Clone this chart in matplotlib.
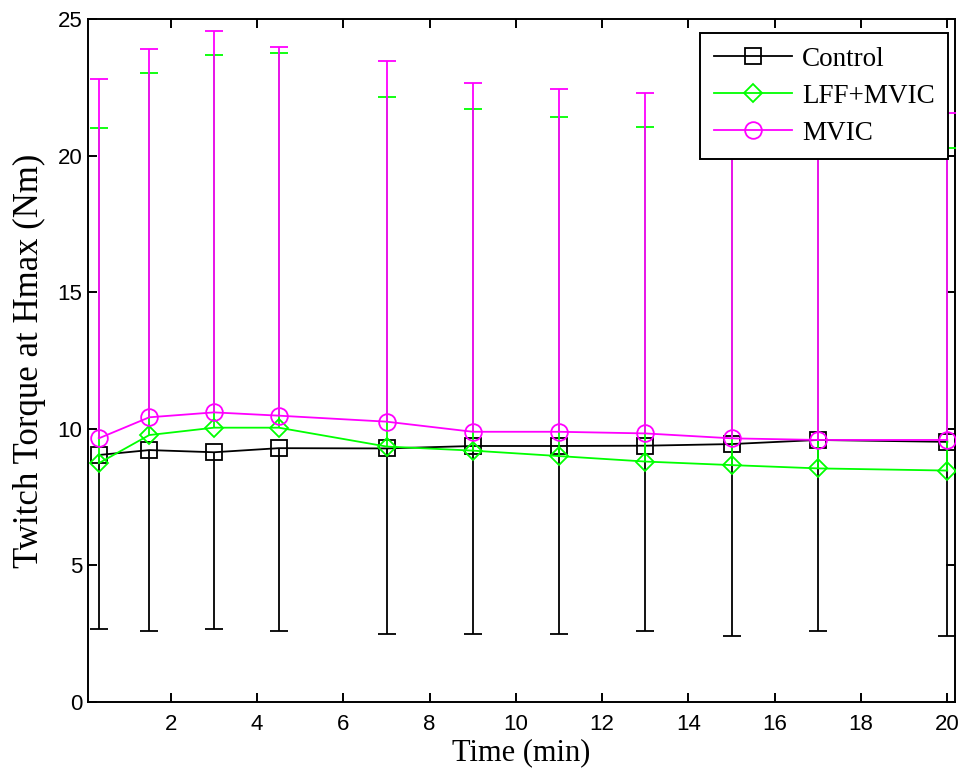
import numpy as np
import matplotlib
matplotlib.use('Agg')
import matplotlib.pyplot as plt

# time points (min)
time_min = [0.33, 1.5, 3, 4.5, 7, 9, 11, 13, 15, 17, 20]

# mean twitch torque (Nm) and error bar ends
control_mean = [9.04, 9.22, 9.14, 9.29, 9.28, 9.37, 9.37, 9.38, 9.44, 9.59, 9.52]
control_low = [2.66, 2.59, 2.66, 2.59, 2.50, 2.50, 2.50, 2.59, 2.43, 2.59, 2.43]

lff_mean = [8.74, 9.77, 10.04, 10.04, 9.35, 9.20, 9.00, 8.80, 8.67, 8.55, 8.47]
lff_high = [21.00, 23.03, 23.68, 23.77, 22.14, 21.71, 21.41, 21.06, 20.80, 20.50, 20.27]

mvic_mean = [9.65, 10.42, 10.60, 10.48, 10.26, 9.89, 9.89, 9.83, 9.65, 9.59, 9.59]
mvic_high = [22.80, 23.90, 24.56, 23.99, 23.46, 22.67, 22.44, 22.30, 22.00, 21.80, 21.57]

labels = ['Control', 'LFF+MVIC', 'MVIC']

fig = plt.figure(figsize=(9.64, 7.81), dpi=100)
ax = fig.add_axes([0.0913, 0.1012, 0.8994, 0.8745])

x = np.array(time_min)
lw = 1.3
cap = 6.5

# Control: only the lower half of the error bar
m = np.array(control_mean)
eb1 = ax.errorbar(x, m, yerr=[m - np.array(control_low), np.zeros_like(m)],
                  color='black', marker='s', ms=12, mfc='none', mew=lw, lw=lw,
                  elinewidth=lw, capsize=cap, capthick=lw, zorder=2)
eb1[1][1].set_visible(False)

# LFF+MVIC: only the upper half
m = np.array(lff_mean)
eb2 = ax.errorbar(x, m, yerr=[np.zeros_like(m), np.array(lff_high) - m],
                  color='#00ff00', marker='D', ms=9, mfc='none', mew=lw, lw=lw,
                  elinewidth=lw, capsize=cap, capthick=lw, zorder=3)
eb2[1][0].set_visible(False)

# MVIC: only the upper half
m = np.array(mvic_mean)
eb3 = ax.errorbar(x, m, yerr=[np.zeros_like(m), np.array(mvic_high) - m],
                  color='#ff00ff', marker='o', ms=12, mfc='none', mew=lw, lw=lw,
                  elinewidth=lw, capsize=cap, capthick=lw, zorder=4)
eb3[1][0].set_visible(False)

ax.set_xlim(0.08, 20.18)
ax.set_ylim(0, 25)
ax.set_xticks(np.arange(2, 21, 2))
ax.set_yticks(np.arange(0, 26, 5))

for s in ax.spines.values():
    s.set_linewidth(1.4)
ax.tick_params(direction='in', length=6.5, width=1.4, top=True, right=True,
               labelsize=16)
ax.tick_params(axis='x', pad=9)
ax.tick_params(axis='y', pad=4)
for t in ax.get_xticklabels() + ax.get_yticklabels():
    t.set_family('Liberation Sans')

ax.set_xlabel('Time (min)', family='Liberation Serif', fontsize=22, labelpad=2)
ax.set_ylabel('Twitch Torque at Hmax (Nm)', family='Liberation Serif',
              fontsize=25, labelpad=8)

leg = ax.legend([eb1[0], eb2[0], eb3[0]], labels, loc='upper right',
                bbox_to_anchor=(0.992, 0.9795), borderaxespad=0,
                prop={'family': 'Liberation Serif', 'size': 19.5},
                fancybox=False, framealpha=1, edgecolor='black',
                handlelength=2.9, handletextpad=0.35, labelspacing=0.45,
                borderpad=0.5, numpoints=1)
leg.get_frame().set_linewidth(1.4)
leg.set_zorder(10)

fig.savefig('out.png', dpi=100)
